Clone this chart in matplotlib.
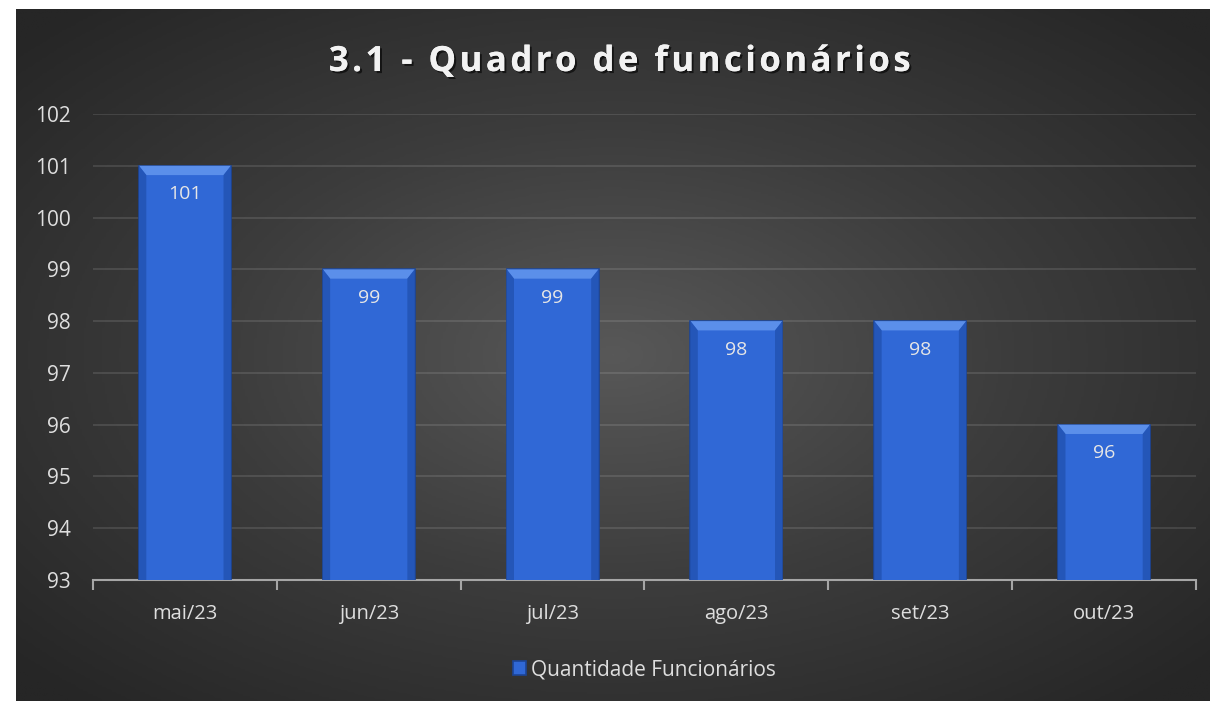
import numpy as np
import matplotlib.pyplot as plt
import matplotlib.patheffects as pe
from matplotlib.colors import LinearSegmentedColormap

# dados
meses = ['mai/23', 'jun/23', 'jul/23', 'ago/23', 'set/23', 'out/23']
quantidade = [101, 99, 99, 98, 98, 96]
titulo = '3.1 - Quadro de funcionários'
serie = 'Quantidade Funcionários'

plt.rcParams['font.family'] = ['Open Sans', 'DejaVu Sans']

fig = plt.figure(figsize=(12.1, 7.01), dpi=100, facecolor='white')

# fundo escuro com gradiente radial
bg = fig.add_axes([16 / 1210, 0, 1 - 16 / 1210, 1 - 9 / 701])
yy, xx = np.mgrid[-1:1:300j, -1:1:500j]
r = np.clip(np.sqrt(xx ** 2 + yy ** 2) / 1.35, 0, 1)
cmap_bg = LinearSegmentedColormap.from_list('bg', ['#585858', '#3c3c3c', '#262626'])
bg.imshow(r, cmap=cmap_bg, vmin=0, vmax=1, aspect='auto', extent=[0, 1, 0, 1])
bg.set_axis_off()

ax = fig.add_axes([93 / 1210, 1 - 580 / 701, 1103 / 1210, (580 - 114) / 701])
ax.set_facecolor('none')
x = np.arange(len(meses))
bars = ax.bar(x, quantidade, width=0.5, color='#3068d6', edgecolor='#1c4596',
              linewidth=1.2, zorder=3)
ax.set_ylim(93, 102)
ax.set_xlim(-0.5, len(meses) - 0.5)

for b, v in zip(bars, quantidade):
    # efeito de chanfro
    x0 = b.get_x()
    w = b.get_width()
    ax.fill([x0, x0 + w, x0 + w - 0.04, x0 + 0.04], [v, v, v - 0.18, v - 0.18],
            color='#5b8fea', zorder=4, lw=0)
    ax.fill([x0, x0 + 0.04, x0 + 0.04, x0], [v, v - 0.18, 93, 93],
            color='#2456b8', zorder=4, lw=0)
    ax.fill([x0 + w, x0 + w - 0.04, x0 + w - 0.04, x0 + w], [v, v - 0.18, 93, 93],
            color='#2456b8', zorder=4, lw=0)
    ax.text(x0 + w / 2, v - 0.38, str(v), ha='center', va='top',
            color='#e6e6e6', fontsize=14, zorder=5)

ax.set_yticks(range(93, 103))
ax.grid(axis='y', color='white', alpha=0.13, linewidth=1.2, zorder=0)
ax.set_xticks(x)
ax.set_xticklabels(meses)
ax.set_xticks(np.arange(-0.5, len(meses)), minor=True)
ax.tick_params(axis='x', which='major', length=0, pad=17, labelsize=14.5, labelcolor='#dedede')
ax.tick_params(axis='x', which='minor', length=7, color='#a6a6a6', width=1.5, direction='out')
ax.tick_params(axis='y', length=0, pad=16, labelsize=15, labelcolor='#dedede')
for s in ['top', 'right', 'left']:
    ax.spines[s].set_visible(False)
ax.spines['bottom'].set_color('#a6a6a6')
ax.spines['bottom'].set_linewidth(1.5)

# titulo com sombra e espacamento entre letras
titulo_esp = '\u200a'.join(titulo)
fig.text(620 / 1210, 1 - 62 / 701, titulo_esp, ha='center', va='center', fontsize=25,
         fontweight='bold', color='#f2f2f2',
         path_effects=[pe.withSimplePatchShadow(offset=(1.5, -1.5), shadow_rgbFace='black', alpha=0.6),
                       pe.Normal()])

# legenda
leg = ax.legend([bars[0]], [serie], loc='upper center', bbox_to_anchor=(0.5, -0.13),
                frameon=False, fontsize=15, labelcolor='#dedede', handlelength=0.6,
                handleheight=0.6, handletextpad=0.25)

fig.savefig('out.png', dpi=100, facecolor='white')
